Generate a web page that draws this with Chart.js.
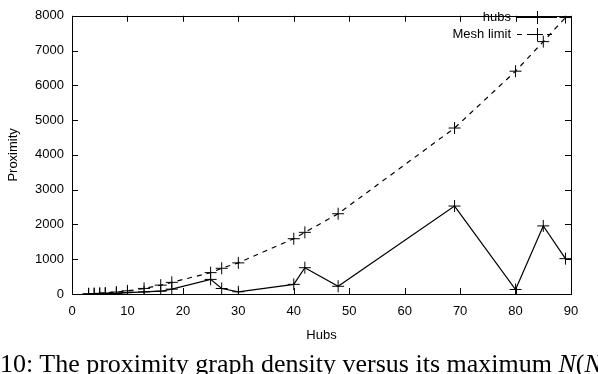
<!DOCTYPE html>
<html>
<head>
<meta charset="utf-8">
<script src="https://cdn.jsdelivr.net/npm/chart.js@4.4.0/dist/chart.umd.min.js"></script>
<style>
  html, body { margin: 0; padding: 0; background: #fff; overflow: hidden; }
  #wrap { position: relative; width: 598px; height: 374px; overflow: hidden; }
  #c { position: absolute; left: 0; top: 0; }
  #cap { position: absolute; left: 0; top: 351px; white-space: nowrap;
         font-family: "Liberation Serif", "DejaVu Serif", serif; font-size: 26px; line-height: 26px; color: #000; }
</style>
</head>
<body>
<div id="wrap">
  <canvas id="c" width="598" height="374"></canvas>
  <div id="cap">10: The proximity graph density versus its maximum <i>N</i>(<i>N</i></div>
</div>
<script>
const hubsX  = [3, 4, 5, 6, 8, 10, 13, 16, 18, 25, 27, 30, 40, 42, 48, 69, 80, 85, 89];
const hubsY  = [2, 3, 5, 10, 20, 40, 60, 80, 140, 420, 158, 64, 277, 756, 222, 2529, 130, 1958, 1016];
const meshY  = [6, 12, 20, 30, 56, 90, 160, 255, 335, 615, 740, 895, 1590, 1773, 2308, 4773, 6407, 7257, 7950];
const seriesNames = ["hubs", "Mesh limit"];
const xTicks = [0, 10, 20, 30, 40, 50, 60, 70, 80, 90];
const yTicks = [0, 1000, 2000, 3000, 4000, 5000, 6000, 7000, 8000];

const FONT = '"Liberation Sans", Arial, sans-serif';
const FS = 13;

const framePlugin = {
  id: 'frame',
  afterDraw(chart) {
    const {ctx, chartArea: a, scales} = chart;
    ctx.save();
    ctx.strokeStyle = '#000';
    ctx.lineWidth = 1;
    ctx.setLineDash([]);
    ctx.strokeRect(Math.round(a.left) + 0.5, Math.round(a.top) + 0.5,
                   Math.round(a.right - a.left), Math.round(a.bottom - a.top));
    const L = 6;
    ctx.beginPath();
    xTicks.forEach(v => {
      const px = Math.round(scales.x.getPixelForValue(v)) + 0.5;
      ctx.moveTo(px, a.bottom); ctx.lineTo(px, a.bottom - L);
      ctx.moveTo(px, a.top); ctx.lineTo(px, a.top + L);
    });
    yTicks.forEach(v => {
      const py = Math.round(scales.y.getPixelForValue(v)) + 0.5;
      ctx.moveTo(a.left, py); ctx.lineTo(a.left + L, py);
      ctx.moveTo(a.right, py); ctx.lineTo(a.right - L, py);
    });
    ctx.stroke();

    // legend (gnuplot style, inside top right)
    ctx.font = FS + 'px ' + FONT;
    ctx.fillStyle = '#000';
    ctx.textAlign = 'right';
    ctx.textBaseline = 'middle';
    const rows = [{name: seriesNames[0], dash: [], y: 17}, {name: seriesNames[1], dash: [5, 5], y: 34}];
    rows.forEach(r => {
      ctx.fillText(r.name, 511, r.y);
      ctx.beginPath();
      ctx.setLineDash(r.dash);
      ctx.lineWidth = 1.2;
      ctx.moveTo(517, r.y + 0.5); ctx.lineTo(557, r.y + 0.5);
      ctx.stroke();
      ctx.setLineDash([]);
      ctx.lineWidth = 1;
      ctx.beginPath();
      ctx.moveTo(531, r.y + 0.5); ctx.lineTo(543, r.y + 0.5);
      ctx.moveTo(537.5, r.y - 6); ctx.lineTo(537.5, r.y + 7);
      ctx.stroke();
    });
    ctx.restore();
  }
};

new Chart(document.getElementById('c'), {
  type: 'line',
  data: {
    datasets: [
      {
        label: seriesNames[0],
        data: hubsX.map((x, i) => ({x: x, y: hubsY[i]})),
        borderColor: '#000', backgroundColor: '#000', borderWidth: 1.2,
        pointStyle: 'cross', pointRadius: 6, pointBorderWidth: 1, pointBorderColor: '#000',
        tension: 0, fill: false
      },
      {
        label: seriesNames[1],
        data: hubsX.map((x, i) => ({x: x, y: meshY[i]})),
        borderColor: '#000', backgroundColor: '#000', borderWidth: 1.2, borderDash: [5, 5],
        pointStyle: 'cross', pointRadius: 6, pointBorderWidth: 1, pointBorderColor: '#000',
        tension: 0, fill: false
      }
    ]
  },
  options: {
    responsive: false,
    animation: false,
    layout: { padding: { top: 5, right: 27, left: 0, bottom: 0 } },
    plugins: { legend: { display: false }, tooltip: { enabled: false } },
    scales: {
      x: {
        type: 'linear', min: 0, max: 90,
        afterBuildTicks: s => { s.ticks = xTicks.map(v => ({value: v})); },
        afterFit: s => { s.height = 80; },
        grid: { display: false, drawTicks: false },
        border: { display: false },
        ticks: { color: '#000', font: { size: FS, family: FONT }, padding: 10, maxRotation: 0, autoSkip: false,
                 callback: v => String(v) },
        title: { display: true, text: 'Hubs', color: '#000', font: { size: FS, family: FONT }, padding: { top: 0, bottom: 31 } }
      },
      y: {
        type: 'linear', min: 0, max: 8000,
        afterBuildTicks: s => { s.ticks = yTicks.map(v => ({value: v})); },
        afterFit: s => { s.width = 72; },
        grid: { display: false, drawTicks: false },
        border: { display: false },
        ticks: { color: '#000', font: { size: FS, family: FONT }, padding: 8, autoSkip: false,
                 callback: v => String(v) },
        title: { display: true, text: 'Proximity', color: '#000', font: { size: FS, family: FONT }, padding: { top: 6, bottom: 0 } }
      }
    }
  },
  plugins: [framePlugin]
});
</script>
</body>
</html>
